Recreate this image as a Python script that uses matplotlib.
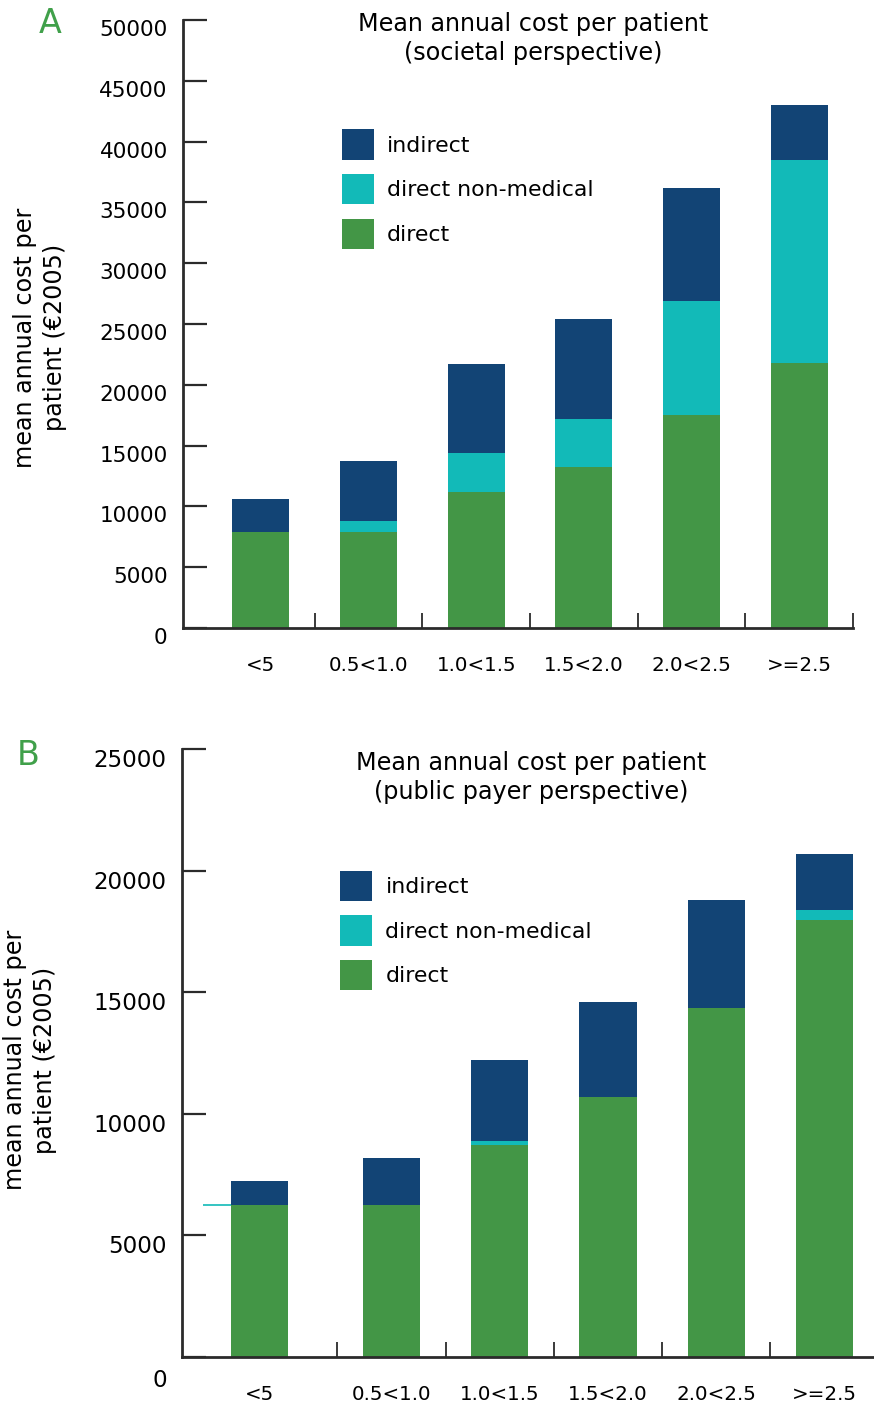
import numpy as np
import matplotlib
matplotlib.use("Agg")
import matplotlib.pyplot as plt
from matplotlib.transforms import ScaledTranslation

groups = ["<5", "0.5<1.0", "1.0<1.5", "1.5<2.0", "2.0<2.5", ">=2.5"]

# societal perspective (EUR 2005)
soc_direct = [7900, 7900, 11200, 13250, 17550, 21800]
soc_nonmed = [0, 900, 3200, 3900, 9350, 16650]
soc_indirect = [2700, 4900, 7300, 8250, 9300, 4550]

# public payer perspective (EUR 2005)
pub_direct = [6250, 6250, 8700, 10700, 14350, 17950]
pub_nonmed = [0, 0, 170, 0, 0, 450]
pub_indirect = [1000, 1950, 3330, 3900, 4450, 2300]

C_DIRECT = "#439646"
C_NONMED = "#12bab8"
C_INDIRECT = "#124475"
C_AXIS = "#2b2b2b"
C_LETTER = "#40a04a"

fig = plt.figure(figsize=(8.74, 14.03), dpi=100)


def draw_panel(ax, pos, direct, nonmed, indirect, ymax, xlim, bounds,
               ylabelsize, legend_anchor, label_shift, zero_shift):
    width = 0.53
    direct = np.array(direct)
    nonmed = np.array(nonmed)
    indirect = np.array(indirect)
    ax.bar(pos, direct, width, color=C_DIRECT, label="direct", zorder=2)
    ax.bar(pos, nonmed, width, bottom=direct, color=C_NONMED,
           label="direct non-medical", zorder=2)
    ax.bar(pos, indirect, width, bottom=direct + nonmed, color=C_INDIRECT,
           label="indirect", zorder=2)

    ax.set_xlim(*xlim)
    ax.set_ylim(0, ymax)
    for s in ("top", "right"):
        ax.spines[s].set_visible(False)
    for s in ("left", "bottom"):
        ax.spines[s].set_linewidth(2.0)
        ax.spines[s].set_color(C_AXIS)

    ax.set_yticks(np.arange(0, ymax + 1, 5000))
    ax.tick_params(axis="y", direction="in", length=17, width=1.6,
                   color=C_AXIS, labelsize=ylabelsize, pad=11)
    for i, lab in enumerate(ax.get_yticklabels()):
        dy = label_shift + (zero_shift if i == 0 else 0)
        lab.set_transform(lab.get_transform()
                          + ScaledTranslation(0, -dy / 100, fig.dpi_scale_trans))

    # boundary ticks on the x axis, category names under the bars
    ax.set_xticks(bounds)
    ax.set_xticklabels([])
    ax.tick_params(axis="x", which="major", direction="in", length=10.5,
                   width=1.3, color=C_AXIS)
    ax.set_xticks(pos, minor=True)
    ax.set_xticklabels(groups, minor=True)
    ax.tick_params(axis="x", which="minor", length=0, labelsize=14.3, pad=20)

    handles, labels = ax.get_legend_handles_labels()
    ax.legend(handles[::-1], labels[::-1], loc="upper left",
              bbox_to_anchor=legend_anchor, frameon=False, fontsize=15.8,
              borderpad=0, borderaxespad=0, handlelength=1.45,
              handleheight=1.76, labelspacing=0.64, handletextpad=0.62)
    return width


# panel A: societal perspective
axA = fig.add_axes([0.2094, 0.5524, 0.7666, 0.4333])
posA = np.arange(len(groups), dtype=float)
draw_panel(axA, posA, soc_direct, soc_nonmed, soc_indirect, 50000,
           (-0.724, 5.5), np.arange(0.5, 6, 1.0), 15.5,
           (0.237, 0.82), 8, 0)
fig.text(0.61, 0.9726, "Mean annual cost per patient\n(societal perspective)",
         ha="center", va="center", fontsize=17.2, linespacing=1.28)
fig.text(0.046, 0.7595, "mean annual cost per\npatient (\u20ac2005)",
         ha="center", va="center", rotation=90, fontsize=17.2,
         linespacing=1.3)
fig.text(0.057, 0.983, "A", ha="center", va="center", fontsize=24,
         color=C_LETTER)

# panel B: public payer perspective
axB = fig.add_axes([0.2082, 0.0328, 0.7906, 0.4333])
posB = np.arange(len(groups), dtype=float)
posB[0] -= 0.22
w = draw_panel(axB, posB, pub_direct, pub_nonmed, pub_indirect, 25000,
               (-0.935, 5.448), np.arange(0.5, 5, 1.0), 16.6,
               (0.2287, 0.80), 9, 12)
# thin non-medical stub left of the first bar
axB.hlines(pub_direct[0], posB[0] - w / 2 - 0.26, posB[0] - w / 2,
           color=C_NONMED, lw=1.2, zorder=3)
fig.text(0.6076, 0.4458, "Mean annual cost per patient\n(public payer perspective)",
         ha="center", va="center", fontsize=17.2, linespacing=1.28)
fig.text(0.034, 0.2445, "mean annual cost per\npatient (\u20ac2005)",
         ha="center", va="center", rotation=90, fontsize=17.2,
         linespacing=1.3)
fig.text(0.032, 0.4615, "B", ha="center", va="center", fontsize=24,
         color=C_LETTER)

fig.savefig("out.png", dpi=100)
